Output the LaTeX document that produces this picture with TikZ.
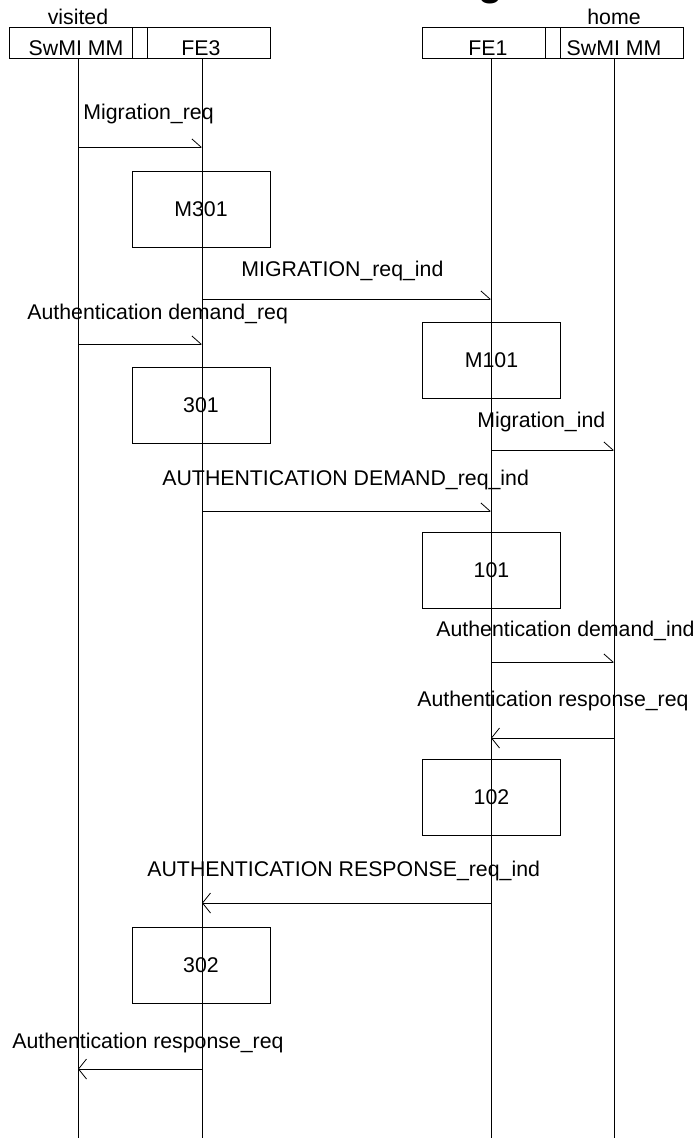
\documentclass[tikz,border=0pt]{standalone}
\usepackage{fontspec}
\setmainfont{Liberation Sans}
\usetikzlibrary{arrows.meta}
\begin{document}
\begin{tikzpicture}[x=1pt,y=-1pt,line width=0.8pt,
  txt/.style={font=\fontsize{21.3}{25}\selectfont,inner sep=0pt},
  lbl/.style={txt,anchor=base west},
  ctr/.style={txt,anchor=base},
  proc/.style={draw,txt,minimum width=138pt,minimum height=76pt},
  hdr/.style={draw,inner sep=0pt,minimum height=31pt},
  msgR/.style={-{Straight Barb[harpoon,length=9pt,width=16pt]}},
  msgL/.style={-{Straight Barb[length=8pt,width=20pt]}}]
\useasboundingbox (0,0) rectangle (697,1138);
% cut-off title fragment
\node[font=\bfseries\fontsize{40}{44}\selectfont,inner sep=0pt,anchor=south] (title) at (491,4.5) {g};
% headers
\node[hdr,minimum width=261pt] (hdrL) at (139.5,42.5) {};
\node[hdr,minimum width=15pt] (hdrLs) at (139.5,42.5) {};
\node[hdr,minimum width=261pt] (hdrR) at (552.5,42.5) {};
\node[hdr,minimum width=15pt] (hdrRs) at (552.5,42.5) {};
\node[ctr] (visited) at (78,24) {visited};
\node[ctr] (home) at (614,24) {home};
\node[ctr] (vmm) at (76,55) {SwMI MM};
\node[ctr] (fe3) at (201,55) {FE3};
\node[ctr] (fe1) at (488,55) {FE1};
\node[ctr] (hmm) at (614,55) {SwMI MM};
% lifelines
\coordinate (Atop) at (78,58);  \coordinate (Abot) at (78,1138);
\coordinate (Btop) at (202,58); \coordinate (Bbot) at (202,1138);
\coordinate (Ctop) at (491,58); \coordinate (Cbot) at (491,1138);
\coordinate (Dtop) at (614,58); \coordinate (Dbot) at (614,1138);
\draw (Atop) -- (Abot);
\draw (Btop) -- (Bbot);
\draw (Ctop) -- (Cbot);
\draw (Dtop) -- (Dbot);
% process boxes
\node[proc] (M301) at (201,209) {M301};
\node[proc] (p301) at (201,405) {301};
\node[proc] (M101) at (491.5,360) {M101};
\node[proc] (p101) at (491.5,570.5) {101};
\node[proc] (p102) at (491.5,797.5) {102};
\node[proc] (p302) at (201,965) {302};
% messages
\coordinate (m1a) at (78,147);  \coordinate (m1b) at (202,147);
\draw[msgR] (m1a) -- (m1b);
\node[lbl] (l1) at (83,119) {Migration\_req};
\coordinate (m2a) at (202,299); \coordinate (m2b) at (491,299);
\draw[msgR] (m2a) -- (m2b);
\node[lbl] (l2) at (241,276) {MIGRATION\_req\_ind};
\coordinate (m3a) at (78,344);  \coordinate (m3b) at (202,344);
\draw[msgR] (m3a) -- (m3b);
\node[lbl] (l3) at (27,319) {Authentication demand\_req};
\coordinate (m4a) at (491,450); \coordinate (m4b) at (614,450);
\draw[msgR] (m4a) -- (m4b);
\node[lbl] (l4) at (477,427) {Migration\_ind};
\coordinate (m5a) at (202,511); \coordinate (m5b) at (491,511);
\draw[msgR] (m5a) -- (m5b);
\node[lbl] (l5) at (162,485) {AUTHENTICATION DEMAND\_req\_ind};
\coordinate (m6a) at (491,662); \coordinate (m6b) at (614,662);
\draw[msgR] (m6a) -- (m6b);
\node[lbl] (l6) at (436,636) {Authentication demand\_ind};
\coordinate (m7a) at (614,738); \coordinate (m7b) at (491,738);
\draw[msgL] (m7a) -- (m7b);
\node[lbl] (l7) at (417,706) {Authentication response\_req};
\coordinate (m8a) at (491,903); \coordinate (m8b) at (202,903);
\draw[msgL] (m8a) -- (m8b);
\node[lbl] (l8) at (147,876) {AUTHENTICATION RESPONSE\_req\_ind};
\coordinate (m9a) at (202,1069); \coordinate (m9b) at (78,1069);
\draw[msgL] (m9a) -- (m9b);
\node[lbl] (l9) at (12,1048) {Authentication response\_req};
\end{tikzpicture}
\end{document}
